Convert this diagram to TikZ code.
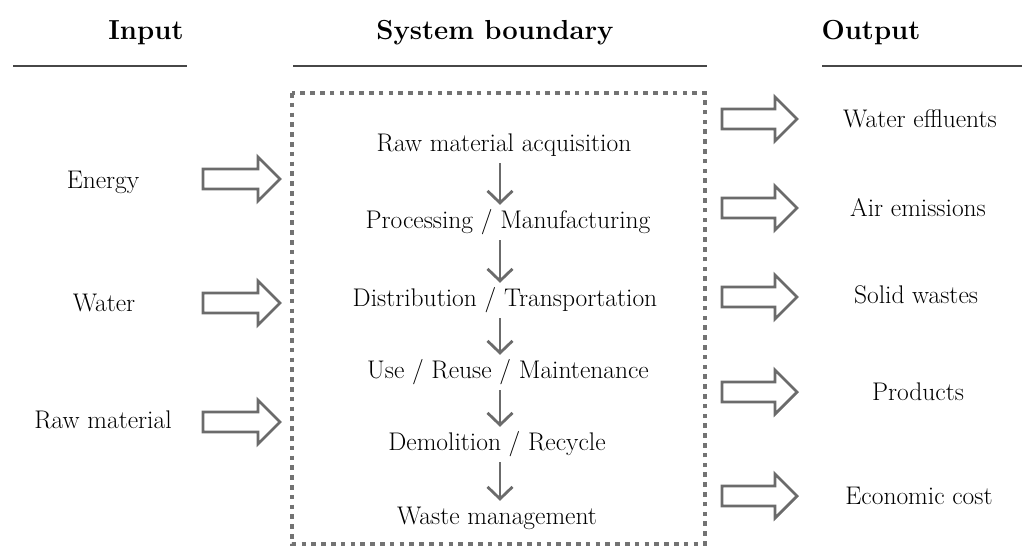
\documentclass[tikz,border=0pt]{standalone}
\usetikzlibrary{arrows.meta}
\begin{document}
\begin{tikzpicture}[x=1pt,y=-1pt,
  txt/.style={font=\fontsize{25.5}{28}\selectfont, inner sep=0pt, anchor=base, text height=18pt, text depth=6pt},
  head/.style={font=\fontsize{27.5}{30}\selectfont\bfseries, inner sep=0pt, anchor=base},
  rule/.style={draw=black!72, line width=2.6pt},
  stagearrow/.style={draw=black!58, line width=2.8pt, -{Straight Barb[length=12pt,width=25pt,line width=2.8pt]}},
  boxarrow/.style={draw=black!58, line width=2.8pt, fill=white, line join=miter},
  boundary/.style={draw=black!55, line width=4.6pt, dash pattern=on 4.6pt off 5.2pt}
]
\useasboundingbox (0,0) rectangle (1022,547);
% headings
\node[head] (hin) at (146,39) {Input};
\node[head] (hsys) at (495,39) {System boundary};
\node[head] (hout) at (871,39) {Output};
\draw[rule] (13,66) -- (187,66);
\draw[rule] (293,66) -- (707,66);
\draw[rule] (822,66) -- (1022,66);
% boundary
\draw[boundary] (292,93) rectangle (705,544);
% stages
\node[txt] (s1) at (504,151) {Raw material acquisition};
\node[txt] (s2) at (508,228) {Processing / Manufacturing};
\node[txt] (s3) at (505,306) {Distribution / Transportation};
\node[txt] (s4) at (508,378) {Use / Reuse / Maintenance};
\node[txt] (s5) at (497,450) {Demolition / Recycle};
\node[txt] (s6) at (497,524) {Waste management};
\coordinate (ax) at (500,0);
\foreach \a/\b in {s1/s2,s2/s3,s3/s4,s4/s5,s5/s6}
  \draw[stagearrow] ([yshift=-6pt]\a.south -| ax) -- ([yshift=5pt]\b.north -| ax);
% inputs
\node[txt] (i1) at (103,188) {Energy};
\node[txt] (i2) at (104,311) {Water};
\node[txt] (i3) at (103,428) {Raw material};
\foreach \y in {179,303,422}
  \draw[boxarrow] (203,\y-10) -- (258,\y-10) -- (258,\y-22) -- (280,\y) -- (258,\y+22) -- (258,\y+10) -- (203,\y+10) -- cycle;
% outputs
\node[txt] (o1) at (920,127) {Water effluents};
\node[txt] (o2) at (918,216) {Air emissions};
\node[txt] (o3) at (916,303) {Solid wastes};
\node[txt] (o4) at (918,400) {Products};
\node[txt] (o5) at (919,504) {Economic cost};
\foreach \y in {119,208,297,392,496}
  \draw[boxarrow] (722,\y-10) -- (775,\y-10) -- (775,\y-22) -- (797,\y) -- (775,\y+22) -- (775,\y+10) -- (722,\y+10) -- cycle;
\end{tikzpicture}
\end{document}
